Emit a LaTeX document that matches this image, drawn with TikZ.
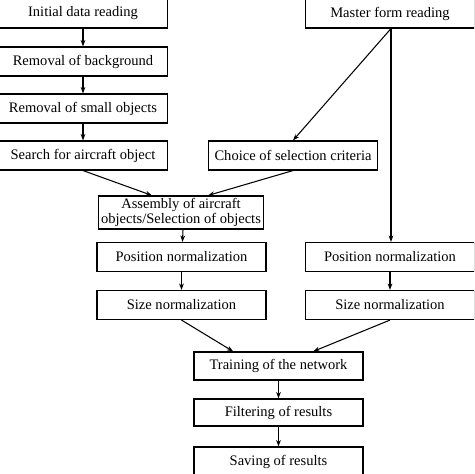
\documentclass[tikz,border=0pt]{standalone}
\usepackage{fontspec}
\setmainfont{Liberation Serif}
\usetikzlibrary{arrows.meta}
\tikzset{
  stage/.style = {draw, line width=0.95pt, minimum width=5.07cm, minimum height=0.87cm,
                  inner sep=1pt, font=\fontsize{12.4}{12.8}\selectfont, align=center},
  flow/.style  = {line width=0.9pt, -{Stealth[length=5.5pt,width=4pt]}}
}
\begin{document}
\begin{tikzpicture}[x = 0.03cm, y = -0.03cm]
        \useasboundingbox (0,0) rectangle (474,474);
        \clip (0,0) rectangle (474,474);
        \node[stage] (init)   at ( 83, 13.5) {Initial data reading};
        \node[stage] (back)   at ( 83, 61.5) {Removal of background};
        \node[stage] (small)  at ( 83,108.5) {Removal of small objects};
        \node[stage] (search) at ( 83,155.5) {Search for aircraft object};
        \node[stage] (master) at (390, 13.5) {Master form reading};
        \node[stage] (choice) at (293,155.5) {Choice of selection criteria};
        \node[stage, minimum width=4.95cm, minimum height=0.99cm] (assembly) at (181,212.5)
              {Assembly of aircraft\\objects/Selection of objects};
        \node[stage] (posL)   at (181.5,257) {Position normalization};
        \node[stage] (sizeL)  at (181.5,305) {Size normalization};
        \node[stage] (posR)   at (390,257)   {Position normalization};
        \node[stage] (sizeR)  at (390,305)   {Size normalization};
        \node[stage, minimum height=0.84cm] (train)  at (278.5,366)   {Training of the network};
        \node[stage, minimum height=0.81cm] (filter) at (278.5,412.5) {Filtering of results};
        \node[stage] (save)   at (278.5,461.5) {Saving of results};
        \draw[flow] (init)   -- (back);
        \draw[flow] (back)   -- (small);
        \draw[flow] (small)  -- (search);
        \draw[flow] (search.south) -- ([xshift=-0.87cm]assembly.north);
        \draw[flow] (choice.south) -- ([xshift=0.81cm]assembly.north);
        \draw[flow] ([xshift=0.03cm]master.south) -- (choice.north);
        \draw[flow] ([xshift=0.03cm]master.south) -- ([xshift=0.03cm]posR.north);
        \draw[flow] ([xshift=0.06cm]assembly.south) -- ([xshift=0.03cm]posL.north);
        \draw[flow] (posL)   -- (sizeL);
        \draw[flow] (posR)   -- (sizeR);
        \draw[flow] (sizeL.south) -- ([xshift=-1.36cm]train.north);
        \draw[flow] (sizeR.south) -- ([xshift=1.04cm]train.north);
        \draw[flow] (train)  -- (filter);
        \draw[flow] (filter) -- (save);
\end{tikzpicture}
\end{document}
